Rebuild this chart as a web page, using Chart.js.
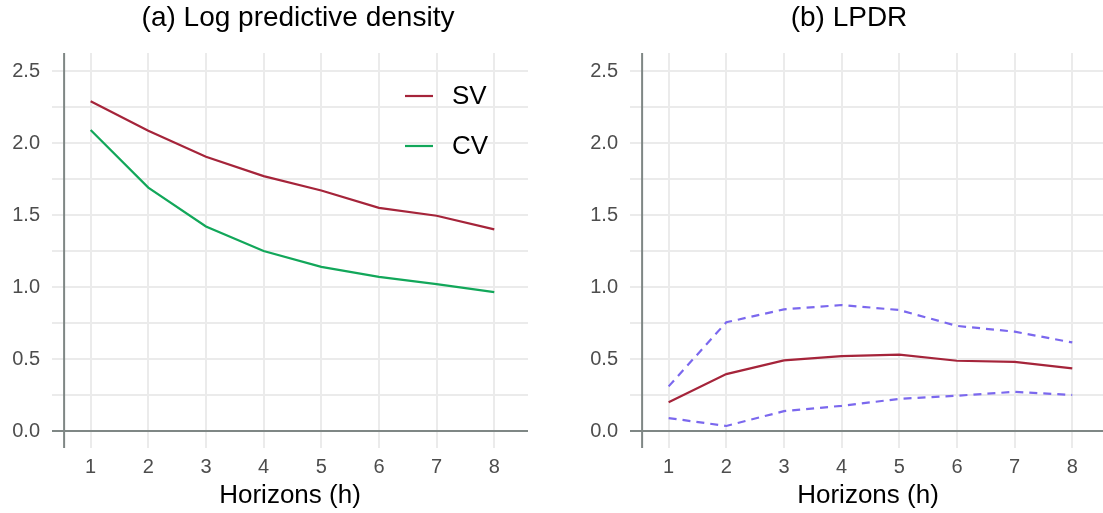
<!DOCTYPE html>
<html><head><meta charset="utf-8">
<script src="https://cdn.jsdelivr.net/npm/chart.js@4.4.0/dist/chart.umd.min.js"></script>
<style>
html,body{margin:0;padding:0;background:#fff;}
#wrap{position:relative;width:1103px;height:513px;overflow:hidden;background:#fff;}
.pane{position:absolute;top:0;}
.ttl{position:absolute;top:3px;font-family:"Liberation Sans",Arial,sans-serif;font-size:28px;line-height:28px;color:#000;white-space:nowrap;transform:translateX(-50%);}
</style></head>
<body>
<div id="wrap">
  <div class="pane" style="left:0;width:560px;height:513px"><canvas id="c1" width="560" height="513"></canvas></div>
  <div class="pane" style="left:560px;width:546px;height:513px"><canvas id="c2" width="546" height="513"></canvas></div>
  <div class="ttl" style="left:298px">(a) Log predictive density</div>
  <div class="ttl" style="left:849px">(b) LPDR</div>
</div>
<script>
// ---- data ----
const horizons = [1, 2, 3, 4, 5, 6, 7, 8];
const svLPD = [2.29, 2.085, 1.905, 1.77, 1.67, 1.55, 1.495, 1.40];
const cvLPD = [2.09, 1.69, 1.42, 1.25, 1.14, 1.07, 1.02, 0.965];
const lpdr = [0.20, 0.395, 0.49, 0.52, 0.53, 0.488, 0.48, 0.435];
const lpdrUpper = [0.31, 0.755, 0.845, 0.875, 0.84, 0.73, 0.69, 0.615];
const lpdrLower = [0.09, 0.035, 0.138, 0.175, 0.223, 0.245, 0.272, 0.25];
const yTickValues = [0, 0.25, 0.5, 0.75, 1, 1.25, 1.5, 1.75, 2, 2.25, 2.5];
const xTickValues = [1, 2, 3, 4, 5, 6, 7, 8];

Chart.defaults.font.family = '"Liberation Sans", Arial, sans-serif';
Chart.defaults.devicePixelRatio = 1;

const RED = '#a5243a', GREEN = '#12a75a', BLUE = '#7b68ee';
const GRID = '#ebebeb', AXIS = '#7f8785';

function pts(ys) { return horizons.map((h, i) => ({ x: h, y: ys[i] })); }

const axisLines = {
  id: 'axisLines',
  beforeDatasetsDraw(chart) {
    const { ctx, chartArea: a, scales: { x, y } } = chart;
    ctx.save();
    ctx.strokeStyle = AXIS;
    ctx.lineWidth = 2;
    const y0 = y.getPixelForValue(0);
    ctx.beginPath(); ctx.moveTo(a.left, y0); ctx.lineTo(a.right, y0); ctx.stroke();
    const xv = x.getPixelForValue(0.54);
    ctx.beginPath(); ctx.moveTo(xv, a.top); ctx.lineTo(xv, a.bottom); ctx.stroke();
    ctx.restore();
  }
};

const inLegend = {
  id: 'inLegend',
  afterDatasetsDraw(chart, args, opts) {
    if (!opts.show) return;
    const { ctx, chartArea: a } = chart;
    ctx.save();
    chart.data.datasets.forEach((ds, i) => {
      const yy = a.top + 43 + i * 50;
      const x0 = a.right - 123;
      ctx.strokeStyle = ds.borderColor; ctx.lineWidth = 2.2;
      ctx.beginPath(); ctx.moveTo(x0, yy); ctx.lineTo(x0 + 28, yy); ctx.stroke();
      ctx.fillStyle = '#000';
      ctx.font = '26px "Liberation Sans", Arial, sans-serif';
      ctx.textBaseline = 'middle'; ctx.textAlign = 'left';
      ctx.fillText(ds.label, x0 + 47, yy + 1);
    });
    ctx.restore();
  }
};

function makeOptions(yWidth, padRight, legend) {
  return {
    responsive: false,
    animation: false,
    layout: { padding: { left: 0, top: 53, right: padRight, bottom: 0 } },
    plugins: { legend: { display: false }, tooltip: { enabled: false }, inLegend: { show: legend } },
    elements: { point: { radius: 0 }, line: { tension: 0, borderWidth: 2.2 } },
    scales: {
      x: {
        type: 'linear', min: 0.33, max: 8.585,
        afterBuildTicks: s => { s.ticks = xTickValues.map(v => ({ value: v })); },
        afterFit: s => { s.height = 65; },
        grid: { color: GRID, lineWidth: 2, drawTicks: false },
        border: { display: false },
        ticks: { autoSkip: false, padding: 7, color: '#4d4d4d', font: { size: 20 }, maxRotation: 0 },
        title: { display: true, text: 'Horizons (h)', color: '#000', font: { size: 26 }, padding: { top: 0, bottom: 2 } }
      },
      y: {
        min: -0.118, max: 2.625,
        afterBuildTicks: s => { s.ticks = yTickValues.map(v => ({ value: v })); },
        afterFit: s => { s.width = yWidth; },
        grid: { color: GRID, lineWidth: 2, drawTicks: false },
        border: { display: false },
        ticks: {
          autoSkip: false, padding: 12, color: '#4d4d4d', font: { size: 20 },
          callback: v => (Math.abs(v * 2 - Math.round(v * 2)) < 1e-9 ? v.toFixed(1) : '')
        }
      }
    }
  };
}

new Chart(document.getElementById('c1'), {
  type: 'line',
  data: { datasets: [
    { label: 'SV', data: pts(svLPD), borderColor: RED },
    { label: 'CV', data: pts(cvLPD), borderColor: GREEN }
  ] },
  options: makeOptions(52, 32, true),
  plugins: [axisLines, inLegend]
});

new Chart(document.getElementById('c2'), {
  type: 'line',
  data: { datasets: [
    { label: 'Upper', data: pts(lpdrUpper), borderColor: BLUE, borderDash: [8, 6] },
    { label: 'Lower', data: pts(lpdrLower), borderColor: BLUE, borderDash: [8, 6] },
    { label: 'LPDR', data: pts(lpdr), borderColor: RED }
  ] },
  options: makeOptions(70, 0, false),
  plugins: [axisLines, inLegend]
});
</script>
</body></html>
